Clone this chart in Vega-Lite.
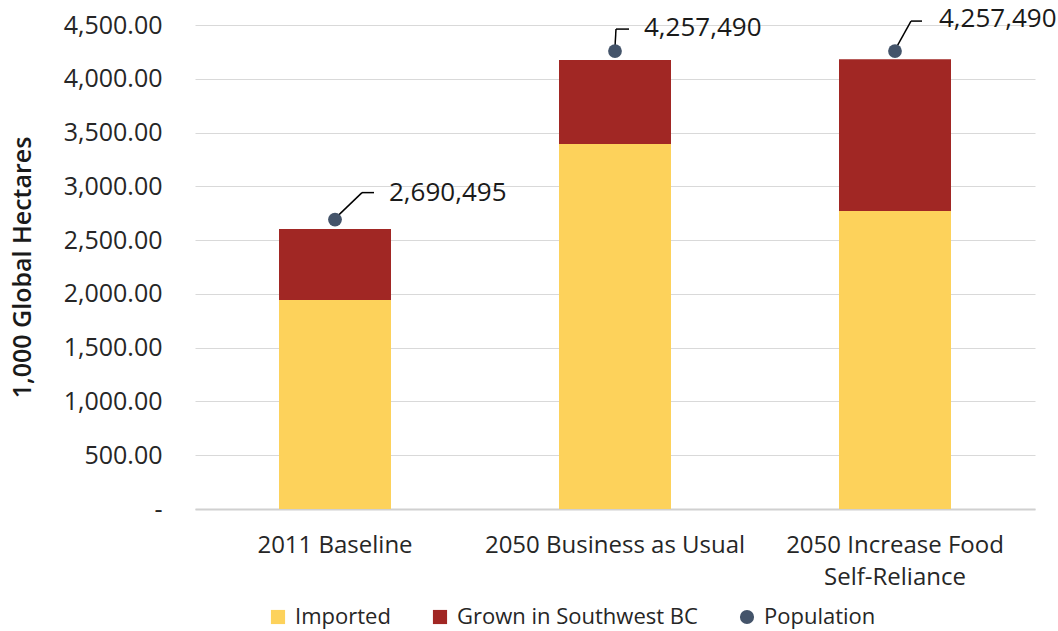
{
  "$schema": "https://vega.github.io/schema/vega-lite/v6.json",
  "width": 840,
  "height": 484,
  "autosize": {"type": "none"},
  "padding": {"left": 195, "top": 25, "right": 23, "bottom": 122},
  "background": "white",
  "config": {
    "view": {"stroke": null},
    "font": "Open Sans"
  },
  "datasets": {
    "bars": [
      {"scenario": "2011 Baseline", "source": "Imported", "gha": 1943},
      {"scenario": "2011 Baseline", "source": "Grown in Southwest BC", "gha": 660},
      {"scenario": "2050 Business as Usual", "source": "Imported", "gha": 3393},
      {"scenario": "2050 Business as Usual", "source": "Grown in Southwest BC", "gha": 782},
      {"scenario": "2050 Increase Food Self-Reliance", "source": "Imported", "gha": 2770},
      {"scenario": "2050 Increase Food Self-Reliance", "source": "Grown in Southwest BC", "gha": 1412}
    ],
    "pop": [
      {"scenario": "2011 Baseline", "population": 2690495, "population_thousands": 2690.495},
      {"scenario": "2050 Business as Usual", "population": 4257490, "population_thousands": 4257.49},
      {"scenario": "2050 Increase Food Self-Reliance", "population": 4257490, "population_thousands": 4257.49}
    ]
  },
  "encoding": {
    "x": {
      "field": "scenario",
      "type": "nominal",
      "sort": null,
      "scale": {"domain": ["2011 Baseline", "2050 Business as Usual", "2050 Increase Food Self-Reliance"], "paddingInner": 0.6, "paddingOuter": 0.3},
      "axis": {
        "title": null,
        "labelAngle": 0,
        "labelFontSize": 24,
        "labelColor": "#262626",
        "labelPadding": 24,
        "labelLineHeight": 32,
        "labelBaseline": "top",
        "labelLimit": 0,
        "ticks": false,
        "domainColor": "#D0D0D0",
        "domainWidth": 2,
        "labelExpr": "datum.label == '2050 Increase Food Self-Reliance' ? ['2050 Increase Food', 'Self-Reliance'] : datum.label"
      }
    }
  },
  "layer": [
    {
      "data": {"name": "bars"},
      "mark": {"type": "bar"},
      "encoding": {
        "y": {
          "field": "gha",
          "type": "quantitative",
          "stack": "zero",
          "scale": {"domain": [0, 4500]},
          "axis": {
            "title": "1,000 Global Hectares",
            "titleFontSize": 25,
            "titleFontWeight": 600,
            "titleColor": "#1a1a1a",
            "titlePadding": 28,
            "values": [0, 500, 1000, 1500, 2000, 2500, 3000, 3500, 4000, 4500],
            "labelExpr": "datum.value == 0 ? '-\u00a0\u00a0\u00a0' : format(datum.value, ',.2f')",
            "labelFontSize": 25,
            "labelColor": "#262626",
            "labelPadding": 33,
            "ticks": false,
            "domain": false,
            "gridColor": "#D9D9D9",
            "gridWidth": 1.2
          }
        },
        "color": {
          "field": "source",
          "type": "nominal",
          "scale": {
            "domain": ["Imported", "Grown in Southwest BC", "Population"],
            "range": ["#FDD25B", "#A12724", "#44546A"]
          },
          "legend": {
            "title": null,
            "orient": "none",
            "legendX": 72,
            "legendY": 581,
            "direction": "horizontal",
            "labelFontSize": 22,
            "labelColor": "#262626",
            "labelLimit": 0,
            "symbolSize": 200,
            "symbolOpacity": 1,
            "symbolStrokeWidth": 0,
            "labelOffset": 6,
            "columnPadding": 38,
            "encode": {
              "symbols": {
                "update": {
                  "shape": {"signal": "datum.value === 'Population' ? 'circle' : 'square'"}
                }
              }
            }
          }
        },
        "order": {"field": "source", "sort": "descending"}
      }
    },
    {
      "data": {"name": "pop"},
      "transform": [{"filter": "datum.scenario == '2011 Baseline'"}],
      "mark": {"type": "rule", "color": "#000000", "strokeWidth": 1.5, "xOffset": 2, "yOffset": -3, "x2Offset": 27, "y2Offset": -27},
      "encoding": {
        "x2": {"field": "scenario"},
        "y": {"field": "population_thousands", "type": "quantitative"},
        "y2": {"field": "population_thousands"}
      }
    },
    {
      "data": {"name": "pop"},
      "transform": [{"filter": "datum.scenario == '2011 Baseline'"}],
      "mark": {"type": "rule", "color": "#000000", "strokeWidth": 1.5, "xOffset": 27, "yOffset": -27, "x2Offset": 39, "y2Offset": -27},
      "encoding": {
        "x2": {"field": "scenario"},
        "y": {"field": "population_thousands", "type": "quantitative"},
        "y2": {"field": "population_thousands"}
      }
    },
    {
      "data": {"name": "pop"},
      "transform": [{"filter": "datum.scenario == '2050 Business as Usual'"}],
      "mark": {"type": "rule", "color": "#000000", "strokeWidth": 1.5, "xOffset": 0, "yOffset": -4, "x2Offset": 1, "y2Offset": -22},
      "encoding": {
        "x2": {"field": "scenario"},
        "y": {"field": "population_thousands", "type": "quantitative"},
        "y2": {"field": "population_thousands"}
      }
    },
    {
      "data": {"name": "pop"},
      "transform": [{"filter": "datum.scenario == '2050 Business as Usual'"}],
      "mark": {"type": "rule", "color": "#000000", "strokeWidth": 1.5, "xOffset": 1, "yOffset": -22, "x2Offset": 14, "y2Offset": -22},
      "encoding": {
        "x2": {"field": "scenario"},
        "y": {"field": "population_thousands", "type": "quantitative"},
        "y2": {"field": "population_thousands"}
      }
    },
    {
      "data": {"name": "pop"},
      "transform": [{"filter": "datum.scenario == '2050 Increase Food Self-Reliance'"}],
      "mark": {"type": "rule", "color": "#000000", "strokeWidth": 1.5, "xOffset": 1, "yOffset": -3, "x2Offset": 16, "y2Offset": -30},
      "encoding": {
        "x2": {"field": "scenario"},
        "y": {"field": "population_thousands", "type": "quantitative"},
        "y2": {"field": "population_thousands"}
      }
    },
    {
      "data": {"name": "pop"},
      "transform": [{"filter": "datum.scenario == '2050 Increase Food Self-Reliance'"}],
      "mark": {"type": "rule", "color": "#000000", "strokeWidth": 1.5, "xOffset": 16, "yOffset": -30, "x2Offset": 27, "y2Offset": -30},
      "encoding": {
        "x2": {"field": "scenario"},
        "y": {"field": "population_thousands", "type": "quantitative"},
        "y2": {"field": "population_thousands"}
      }
    },
    {
      "data": {"name": "pop"},
      "mark": {"type": "point", "filled": true, "size": 190, "opacity": 1},
      "encoding": {
        "y": {"field": "population_thousands", "type": "quantitative"},
        "color": {"datum": "Population"}
      }
    },
    {
      "data": {"name": "pop"},
      "transform": [{"filter": "datum.scenario == '2011 Baseline'"}],
      "mark": {"type": "text", "align": "left", "baseline": "middle", "fontSize": 26, "color": "#1a1a1a", "dx": 54, "dy": -27},
      "encoding": {
        "y": {"field": "population_thousands", "type": "quantitative"},
        "text": {"field": "population", "type": "quantitative", "format": ","}
      }
    },
    {
      "data": {"name": "pop"},
      "transform": [{"filter": "datum.scenario == '2050 Business as Usual'"}],
      "mark": {"type": "text", "align": "left", "baseline": "middle", "fontSize": 26, "color": "#1a1a1a", "dx": 29, "dy": -23},
      "encoding": {
        "y": {"field": "population_thousands", "type": "quantitative"},
        "text": {"field": "population", "type": "quantitative", "format": ","}
      }
    },
    {
      "data": {"name": "pop"},
      "transform": [{"filter": "datum.scenario == '2050 Increase Food Self-Reliance'"}],
      "mark": {"type": "text", "align": "left", "baseline": "middle", "fontSize": 26, "color": "#1a1a1a", "dx": 44, "dy": -32},
      "encoding": {
        "y": {"field": "population_thousands", "type": "quantitative"},
        "text": {"field": "population", "type": "quantitative", "format": ","}
      }
    }
  ]
}
